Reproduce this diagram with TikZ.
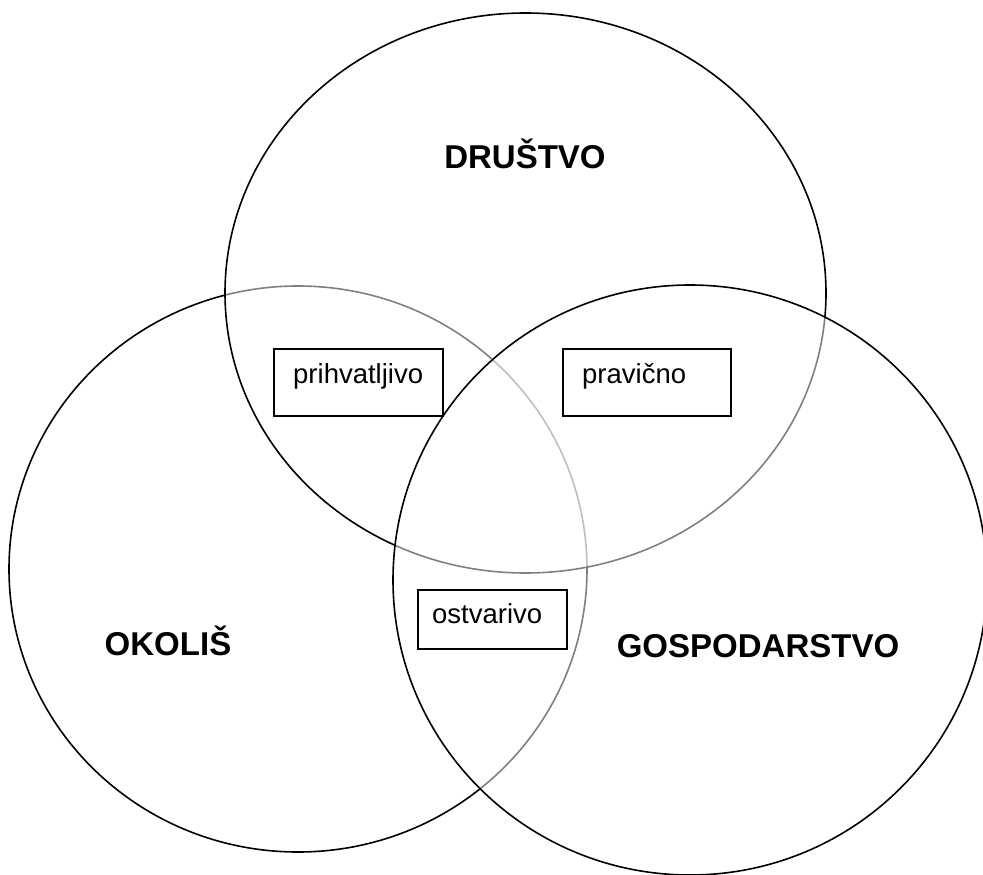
\documentclass[tikz,border=0pt]{standalone}
\usepackage{fontspec}
\setmainfont{Liberation Sans}
\usetikzlibrary{shapes.geometric,calc}
\tikzset{
  x=1pt, y=-1pt,
  setcircle/.style={ellipse, draw=black, line width=1.6pt, fill=white, fill opacity=0.5, draw opacity=1, inner sep=0pt},
  bigtext/.style={font=\fontsize{33}{38}\selectfont\bfseries, inner sep=0pt, anchor=base},
  boxframe/.style={rectangle, draw=black, line width=1.5pt, fill=white, inner sep=0pt, anchor=north west},
  boxtext/.style={font=\fontsize{27.5}{31}\selectfont, inner sep=0pt, anchor=base west}
}
\begin{document}
\begin{tikzpicture}
\useasboundingbox (0,0) rectangle (983,875);
% circles (drawing order matters for the grey look)
\node[setcircle, minimum width=578pt, minimum height=566pt] (okolis) at (298,569) {};
\node[setcircle, minimum width=601pt, minimum height=560pt] (drustvo) at (525.5,293) {};
\node[setcircle, minimum width=594pt, minimum height=590pt] (gosp) at (690,580) {};
% labels
\node[bigtext] (ldrustvo) at (525,168) {DRUŠTVO};
\node[bigtext] (lokolis) at (168,655) {OKOLIŠ};
\node[bigtext] (lgosp) at (758,657) {GOSPODARSTVO};
% boxes
\node[boxframe, minimum width=169pt, minimum height=67pt] (b1) at (273,348) {};
\node[boxtext] (t1) at ($(b1.north west)+(20,35)$) {prihvatljivo};
\node[boxframe, minimum width=168pt, minimum height=67pt] (b2) at (562,348) {};
\node[boxtext] (t2) at ($(b2.north west)+(20,35)$) {pravično};
\node[boxframe, minimum width=149pt, minimum height=59pt] (b3) at (417,589) {};
\node[boxtext] (t3) at ($(b3.north west)+(15,34)$) {ostvarivo};
\end{tikzpicture}
\end{document}
